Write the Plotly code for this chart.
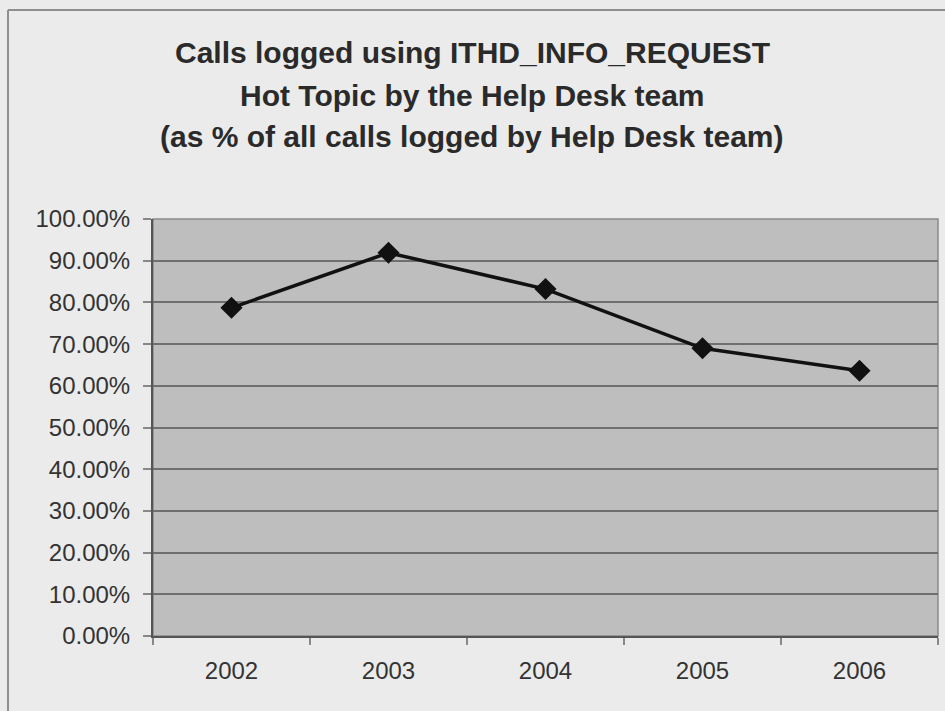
import plotly.graph_objects as go

years = ["2002", "2003", "2004", "2005", "2006"]
share = [0.787, 0.919, 0.832, 0.690, 0.636]
title_lines = [
    "Calls logged using ITHD_INFO_REQUEST",
    "Hot Topic by the Help Desk team",
    "(as % of all calls logged by Help Desk team)",
]

W, H = 945, 711
L, R, T, B = 153, 7, 219, 75
pw, ph = W - L - R, H - T - B

def px_to_paper_x(x):
    return (x - L) / pw

def px_to_paper_y(y):
    return (H - B - y) / ph

fig = go.Figure()
fig.add_trace(go.Scatter(
    x=years, y=share, mode="lines+markers",
    line=dict(color="#111111", width=3.5),
    marker=dict(symbol="diamond", size=17, color="#111111"),
    showlegend=False,
))

font_main = "Liberation Sans, Arial, sans-serif"

annotations = []
for txt, yp in zip(title_lines, [52, 95, 137]):
    annotations.append(dict(
        text="<b>" + txt + "</b>", x=px_to_paper_x(472), y=px_to_paper_y(yp),
        xref="paper", yref="paper", showarrow=False, xanchor="center", yanchor="middle",
        font=dict(family=font_main, size=30, color="#2a2a2a"),
    ))

shapes = [
    dict(type="rect", xref="paper", yref="paper", x0=0, x1=1, y0=0, y1=1,
         line=dict(color="#8a8a8a", width=1.5), layer="below"),
    dict(type="line", xref="paper", yref="paper",
         x0=px_to_paper_x(8), x1=px_to_paper_x(960), y0=px_to_paper_y(10), y1=px_to_paper_y(10),
         line=dict(color="#8f8f8f", width=2)),
    dict(type="line", xref="paper", yref="paper",
         x0=px_to_paper_x(8), x1=px_to_paper_x(8), y0=px_to_paper_y(10), y1=px_to_paper_y(720),
         line=dict(color="#8f8f8f", width=2)),
]

fig.update_layout(
    width=W, height=H,
    margin=dict(l=L, r=R, t=T, b=B),
    paper_bgcolor="#ebebeb",
    plot_bgcolor="#bebebe",
    font=dict(family=font_main, size=24, color="#333333"),
    annotations=annotations,
    shapes=shapes,
    xaxis=dict(
        type="category", range=[-0.5, 4.5], showgrid=False, showline=True, linecolor="#555555", linewidth=2,
        ticks="outside", tickson="boundaries", ticklen=7, tickcolor="#888888", tickwidth=1.5,
        ticklabelstandoff=12, tickfont=dict(size=24, color="#333333"),
    ),
    yaxis=dict(
        range=[0, 1], dtick=0.1, tickformat=".2%", showgrid=True, gridcolor="#6f6f6f", gridwidth=1.5,
        showline=True, linecolor="#555555", linewidth=2, zeroline=False,
        ticks="outside", ticklen=8, tickcolor="#888888", tickwidth=1.5,
        ticklabelstandoff=8, tickfont=dict(size=24, color="#333333"),
    ),
)

fig.write_html("out.html")
